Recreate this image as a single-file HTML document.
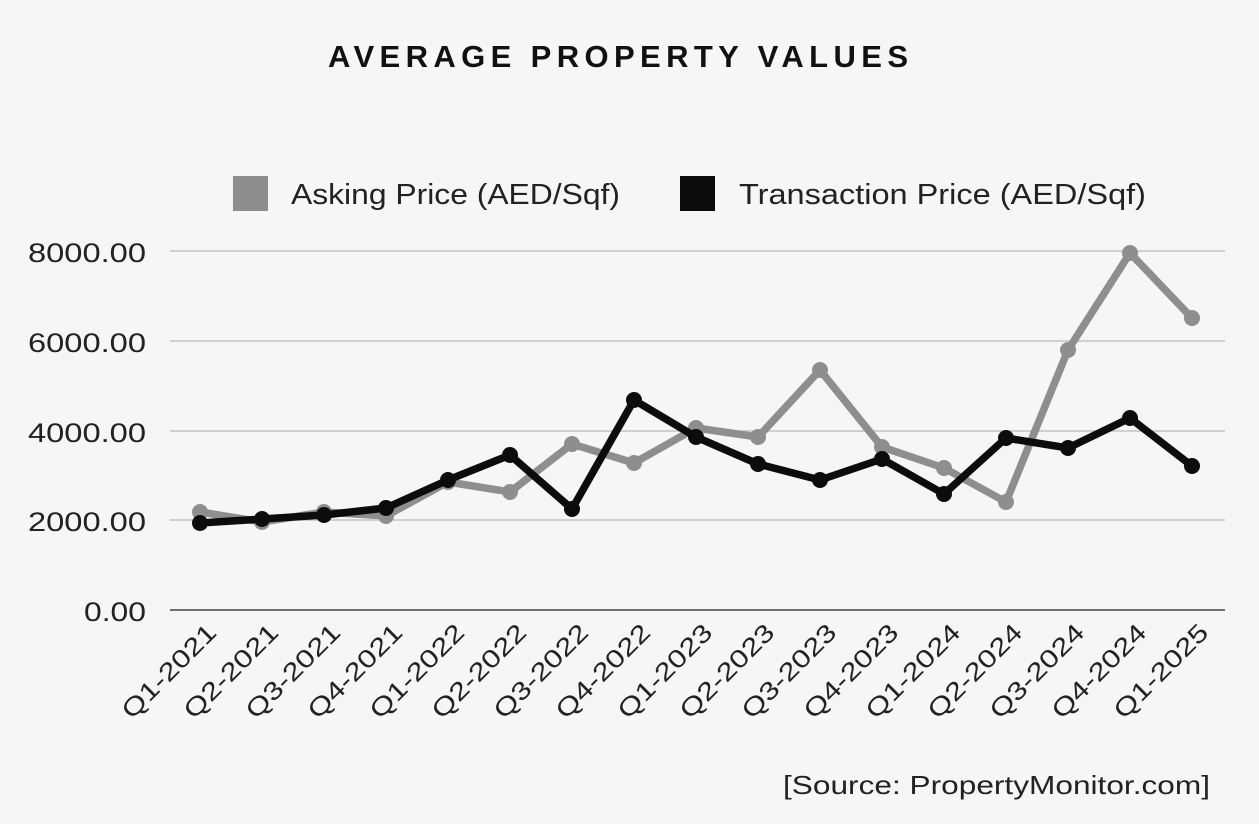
<!DOCTYPE html>
<html><head><meta charset="utf-8"><style>
html,body{margin:0;padding:0;background:#f6f6f6;}
svg{display:block;font-family:"Liberation Sans",sans-serif;}
</style></head><body>
<svg width="1259" height="824" viewBox="0 0 1259 824" xmlns="http://www.w3.org/2000/svg">
<rect width="1259" height="824" fill="#f6f6f6"/>
<text x="328" y="67" textLength="580" lengthAdjust="spacing" font-size="31" font-weight="bold" fill="#111">AVERAGE PROPERTY VALUES</text>
<rect x="233" y="176" width="35" height="35" fill="#8e8e8e"/>
<text x="291" y="204" font-size="29" textLength="329" lengthAdjust="spacingAndGlyphs" fill="#222">Asking Price (AED/Sqf)</text>
<rect x="680" y="176" width="35" height="35" fill="#0c0c0c"/>
<text x="739" y="204" font-size="29" textLength="407" lengthAdjust="spacingAndGlyphs" fill="#222">Transaction Price (AED/Sqf)</text>
<g stroke="#c4c4c4" stroke-width="1.5">
<line x1="170" y1="251" x2="1225" y2="251"/><line x1="170" y1="341" x2="1225" y2="341"/>
<line x1="170" y1="431" x2="1225" y2="431"/><line x1="170" y1="520" x2="1225" y2="520"/>
</g>
<line x1="170" y1="610" x2="1225" y2="610" stroke="#444" stroke-width="1.5"/>
<g font-size="27" fill="#222">
<text x="28" y="262" textLength="118" lengthAdjust="spacingAndGlyphs">8000.00</text>
<text x="28" y="352" textLength="118" lengthAdjust="spacingAndGlyphs">6000.00</text>
<text x="28" y="442" textLength="118" lengthAdjust="spacingAndGlyphs">4000.00</text>
<text x="28" y="531" textLength="118" lengthAdjust="spacingAndGlyphs">2000.00</text>
<text x="84" y="621" textLength="62" lengthAdjust="spacingAndGlyphs">0.00</text>
</g>
<polyline fill="none" stroke="#8e8e8e" stroke-width="7.5" stroke-linejoin="round" points="200,512 262,522 324,512 386,516 448,482 510,492 572,444 634,463 696,428 758,437 820,370 882,447 944,468 1006,502 1068,350 1130,253 1192,318"/>
<g fill="#8e8e8e">
<circle cx="200" cy="512" r="8"/><circle cx="262" cy="522" r="8"/><circle cx="324" cy="512" r="8"/><circle cx="386" cy="516" r="8"/><circle cx="448" cy="482" r="8"/><circle cx="510" cy="492" r="8"/><circle cx="572" cy="444" r="8"/><circle cx="634" cy="463" r="8"/><circle cx="696" cy="428" r="8"/><circle cx="758" cy="437" r="8"/><circle cx="820" cy="370" r="8"/><circle cx="882" cy="447" r="8"/><circle cx="944" cy="468" r="8"/><circle cx="1006" cy="502" r="8"/><circle cx="1068" cy="350" r="8"/><circle cx="1130" cy="253" r="8"/><circle cx="1192" cy="318" r="8"/>
</g>
<polyline fill="none" stroke="#0c0c0c" stroke-width="7.5" stroke-linejoin="round" points="200,523 262,519 324,515 386,508 448,480 510,455 572,509 634,400 696,437 758,464 820,480 882,459 944,494 1006,438 1068,448 1130,418 1192,466"/>
<g fill="#0c0c0c">
<circle cx="200" cy="523" r="8"/><circle cx="262" cy="519" r="8"/><circle cx="324" cy="515" r="8"/><circle cx="386" cy="508" r="8"/><circle cx="448" cy="480" r="8"/><circle cx="510" cy="455" r="8"/><circle cx="572" cy="509" r="8"/><circle cx="634" cy="400" r="8"/><circle cx="696" cy="437" r="8"/><circle cx="758" cy="464" r="8"/><circle cx="820" cy="480" r="8"/><circle cx="882" cy="459" r="8"/><circle cx="944" cy="494" r="8"/><circle cx="1006" cy="438" r="8"/><circle cx="1068" cy="448" r="8"/><circle cx="1130" cy="418" r="8"/><circle cx="1192" cy="466" r="8"/>
</g>
<g font-size="25" fill="#222">
<text transform="translate(218,634) rotate(-45)" x="-122" textLength="122" lengthAdjust="spacingAndGlyphs">Q1-2021</text>
<text transform="translate(280,634) rotate(-45)" x="-122" textLength="122" lengthAdjust="spacingAndGlyphs">Q2-2021</text>
<text transform="translate(342,634) rotate(-45)" x="-122" textLength="122" lengthAdjust="spacingAndGlyphs">Q3-2021</text>
<text transform="translate(404,634) rotate(-45)" x="-122" textLength="122" lengthAdjust="spacingAndGlyphs">Q4-2021</text>
<text transform="translate(466,634) rotate(-45)" x="-122" textLength="122" lengthAdjust="spacingAndGlyphs">Q1-2022</text>
<text transform="translate(528,634) rotate(-45)" x="-122" textLength="122" lengthAdjust="spacingAndGlyphs">Q2-2022</text>
<text transform="translate(590,634) rotate(-45)" x="-122" textLength="122" lengthAdjust="spacingAndGlyphs">Q3-2022</text>
<text transform="translate(652,634) rotate(-45)" x="-122" textLength="122" lengthAdjust="spacingAndGlyphs">Q4-2022</text>
<text transform="translate(714,634) rotate(-45)" x="-122" textLength="122" lengthAdjust="spacingAndGlyphs">Q1-2023</text>
<text transform="translate(776,634) rotate(-45)" x="-122" textLength="122" lengthAdjust="spacingAndGlyphs">Q2-2023</text>
<text transform="translate(838,634) rotate(-45)" x="-122" textLength="122" lengthAdjust="spacingAndGlyphs">Q3-2023</text>
<text transform="translate(900,634) rotate(-45)" x="-122" textLength="122" lengthAdjust="spacingAndGlyphs">Q4-2023</text>
<text transform="translate(962,634) rotate(-45)" x="-122" textLength="122" lengthAdjust="spacingAndGlyphs">Q1-2024</text>
<text transform="translate(1024,634) rotate(-45)" x="-122" textLength="122" lengthAdjust="spacingAndGlyphs">Q2-2024</text>
<text transform="translate(1086,634) rotate(-45)" x="-122" textLength="122" lengthAdjust="spacingAndGlyphs">Q3-2024</text>
<text transform="translate(1148,634) rotate(-45)" x="-122" textLength="122" lengthAdjust="spacingAndGlyphs">Q4-2024</text>
<text transform="translate(1210,634) rotate(-45)" x="-122" textLength="122" lengthAdjust="spacingAndGlyphs">Q1-2025</text>
</g>
<text x="783" y="794" textLength="427" lengthAdjust="spacingAndGlyphs" font-size="26" fill="#222">[Source: PropertyMonitor.com]</text>
</svg>
</body></html>
